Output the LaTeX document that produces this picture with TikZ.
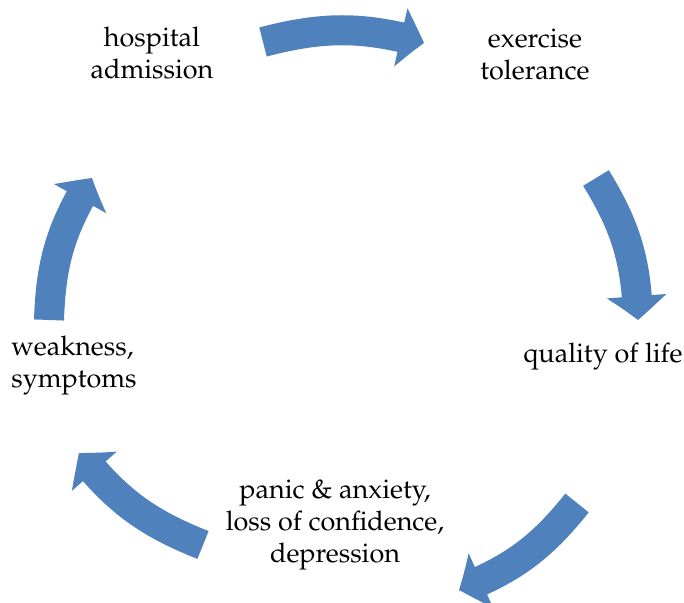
\documentclass[tikz,border=0pt]{standalone}
\usepackage[T1]{fontenc}
\usepackage{mathpazo}
\usetikzlibrary{arrows.meta,bending}
\definecolor{cycleblue}{RGB}{79,129,189}

\begin{document}
\begin{tikzpicture}[
  x=0.5pt, y=0.5pt,
  font=\fontsize{13.5}{16}\selectfont,
  stage/.style={align=center, inner sep=0pt},
  cyc/.style={
    line width=15pt,
    draw=cycleblue,
    -{Triangle[length=12pt, width=29pt, bend]}
  }
]
\useasboundingbox (0,0) rectangle (684,603);

% The five stages of the cycle.
\node[stage] (hosp) at (152,550) {hospital\\admission};
\node[stage] (exer) at (535,549) {exercise\\tolerance};
\node[stage] (qol) at (603,246) {quality of life};
\node[stage, align=left] (weak) at (74,237) {weakness,\\symptoms};
\node[stage] (panic) at (335,78) {panic \& anxiety,\\loss of confidence,\\depression};

% Ends of the block arrows.
\coordinate (t1) at (263,561);
\coordinate (h1) at (424,560);
\coordinate (t2) at (596,425);
\coordinate (h2) at (638,283);
\coordinate (t3) at (577,100);
\coordinate (h3) at (459,13);
\coordinate (t4) at (203,58);
\coordinate (h4) at (79,150);
\coordinate (t5) at (49,283);
\coordinate (h5) at (92,425);

\draw[cyc] (t1) to[bend left=15] (h1);
\draw[cyc] (t2) to[bend left=15] (h2);
\draw[cyc] (t3) to[bend left=15] (h3);
\draw[cyc] (t4) to[bend left=15] (h4);
\draw[cyc] (t5) to[bend left=15] (h5);

\end{tikzpicture}
\end{document}
